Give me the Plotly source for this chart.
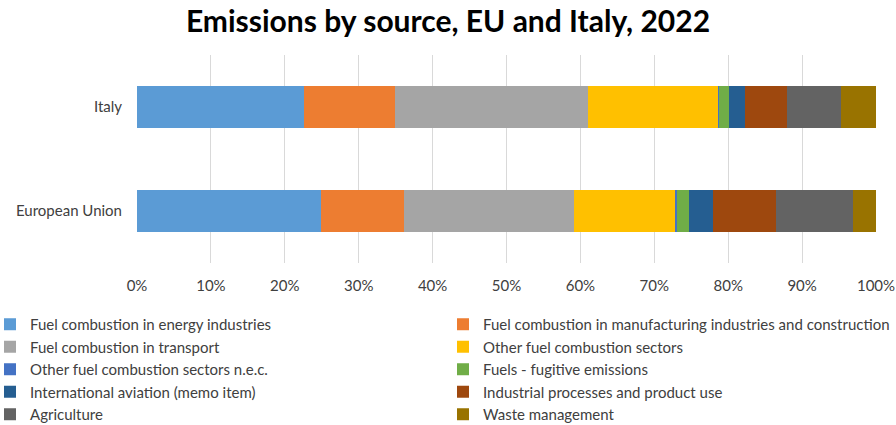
import plotly.graph_objects as go

# Share of total emissions by source, 2022 (%)
regions = ["European Union", "Italy"]

sources = [
    "Fuel combustion in energy industries",
    "Fuel combustion in manufacturing industries and construction",
    "Fuel combustion in transport",
    "Other fuel combustion sectors",
    "Other fuel combustion sectors n.e.c.",
    "Fuels - fugitive emissions",
    "International aviation (memo item)",
    "Industrial processes and product use",
    "Agriculture",
    "Waste management",
]

eu_shares = [24.9, 11.2, 23.1, 13.7, 0.2, 1.6, 3.3, 8.4, 10.5, 3.1]
italy_shares = [22.6, 12.3, 26.1, 17.7, 0.1, 1.3, 2.2, 5.6, 7.3, 4.8]

colors = [
    "#5b9bd5", "#ed7d31", "#a5a5a5", "#ffc000", "#4472c4",
    "#70ad47", "#255e91", "#9e480e", "#636363", "#997300",
]

FONT = "Lato"
TEXT = "#404040"

fig = go.Figure()
for i, name in enumerate(sources):
    fig.add_trace(go.Bar(
        name=name,
        y=regions,
        x=[eu_shares[i], italy_shares[i]],
        orientation="h",
        marker=dict(color=colors[i], line=dict(width=0)),
        width=0.395,
        # two-column key: alternate entries between the left and right legends
        legend="legend" if i % 2 == 0 else "legend2",
    ))

legend_common = dict(
    orientation="v",
    xref="paper", yref="paper",
    xanchor="left", yanchor="top",
    y=-0.2163,
    traceorder="normal",
    font=dict(family=FONT, size=15, color=TEXT),
    itemwidth=30,
    bgcolor="rgba(0,0,0,0)",
)

fig.update_layout(
    barmode="stack",
    width=896,
    height=425,
    margin=dict(l=137, r=20, t=55, b=162, autoexpand=False),
    paper_bgcolor="white",
    plot_bgcolor="white",
    font=dict(family=FONT, size=15, color=TEXT),
    title=dict(
        text="<b>Emissions by source, EU and Italy, 2022</b>",
        x=0.5, xanchor="center", xref="container",
        y=1 - 21 / 425, yanchor="middle", yref="container",
        font=dict(family=FONT, size=30, color="black"),
    ),
    xaxis=dict(
        range=[0, 100],
        tickvals=[0, 10, 20, 30, 40, 50, 60, 70, 80, 90, 100],
        ticktext=["0%", "10%", "20%", "30%", "40%", "50%", "60%", "70%", "80%", "90%", "100%"],
        showgrid=True, gridcolor="#d9d9d9", gridwidth=1,
        zeroline=False, showline=False,
        ticks="", ticklabelstandoff=12,
        tickfont=dict(family=FONT, size=15, color=TEXT),
        fixedrange=True,
    ),
    yaxis=dict(
        range=[-0.5, 1.5],
        showgrid=False, zeroline=False, showline=False,
        ticks="", ticklabelstandoff=14,
        tickfont=dict(family=FONT, size=15, color=TEXT),
        fixedrange=True,
    ),
    legend=dict(x=-0.1989, **legend_common),
    legend2=dict(x=0.4141, **legend_common),
    showlegend=True,
)

fig.write_html("out.html")
